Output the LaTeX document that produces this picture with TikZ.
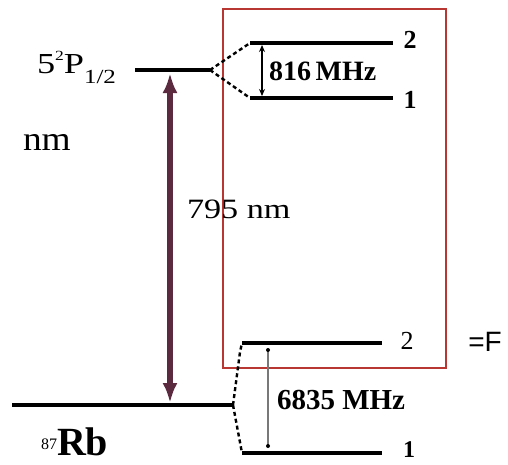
\documentclass[tikz,border=0pt]{standalone}
\usepackage{fontspec}
\setmainfont{Liberation Serif}
\newfontfamily\hand{Liberation Sans}
\usetikzlibrary{arrows.meta}
\definecolor{boxred}{RGB}{185,55,50}
\definecolor{maroon}{RGB}{92,42,62}
\definecolor{thingray}{RGB}{120,120,120}
\tikzset{
  lvl/.style={line width=4.5pt},
  hfs/.style={line width=3.2pt},
  dashlink/.style={line width=2.4pt, dash pattern=on 4pt off 3pt},
  txt/.style={inner sep=0pt, outer sep=0pt},
  smallarr/.style={line width=1.6pt, {Stealth[length=7pt,width=6pt]}-{Stealth[length=7pt,width=6pt]}},
}
\begin{document}
\begin{tikzpicture}[x=1pt,y=-1pt]
\useasboundingbox (0,0) rectangle (508,464);
% red box
\draw[boxred, line width=2.6pt] (223,9) rectangle (446,368);
% coordinates
\coordinate (pL) at (135,70);
\coordinate (pR) at (210,70);
\coordinate (p2L) at (250,43);
\coordinate (p2R) at (393,43);
\coordinate (p1L) at (250,98);
\coordinate (p1R) at (393,98);
\coordinate (gL) at (12,405);
\coordinate (gR) at (233,405);
\coordinate (g2L) at (242,343);
\coordinate (g2R) at (382,343);
\coordinate (gK) at (240,352);
\coordinate (g1L) at (242,453);
\coordinate (g1R) at (382,453);
\coordinate (aTop) at (170,73);
\coordinate (aBot) at (170,403);
\coordinate (mTop) at (262,45);
\coordinate (mBot) at (262,96);
\coordinate (sTop) at (268,350);
\coordinate (sBot) at (268,446);
% levels
\draw[lvl] (pL) -- (pR);
\draw[lvl] (gL) -- (gR);
\draw[hfs] (p2L) -- (p2R);
\draw[hfs] (p1L) -- (p1R);
\draw[hfs] (g2L) -- (g2R);
\draw[hfs] (g1L) -- (g1R);
% dashed links
\draw[dashlink] (pR) -- (p2L);
\draw[dashlink] (pR) -- (p1L);
\draw[dashlink] (gR) -- (gK) -- (g2L);
\draw[dashlink] (gR) -- (g1L);
% arrows
\draw[maroon, line width=5.5pt, {Latex[length=20pt,width=15pt]}-{Latex[length=20pt,width=15pt]}] (aTop) -- (aBot);
\draw[smallarr] (mTop) -- (mBot);
\draw[thingray, line width=1.6pt] (sTop) -- (sBot);
\fill (sTop) circle (2pt) (sBot) circle (2pt);
% texts
\node[txt, anchor=base west] (lblP) at (37,73) {\scalebox{1.25}[1]{\fontsize{29}{32}\selectfont 5\raisebox{0.42em}{\fontsize{14}{14}\selectfont 2}P\raisebox{-0.36em}{\fontsize{20}{20}\selectfont 1/2}}};
\node[txt, anchor=base west] (lblnm) at (23,150) {\scalebox{1.1}[1]{\fontsize{34}{36}\selectfont nm}};
\node[txt, anchor=base west] (lbl795) at (187,218) {\scalebox{1.22}[1]{\fontsize{28}{30}\selectfont 795 nm}};
\node[txt, anchor=base west] (lbl816) at (269,80) {\fontsize{28}{30}\selectfont\bfseries 816\,MHz};
\node[txt, anchor=base west] (lbl6835) at (277,409) {\fontsize{29}{31}\selectfont\bfseries 6835 MHz};
\node[txt] (lp2) at (410,40) {\fontsize{26}{28}\selectfont\bfseries 2};
\node[txt] (lp1) at (410,100) {\fontsize{26}{28}\selectfont\bfseries 1};
\node[txt] (lg2) at (407,341) {\fontsize{26}{28}\selectfont 2};
\node[txt] (lg1) at (409,450) {\fontsize{24}{26}\selectfont\bfseries 1};
\node[txt, anchor=base west] (lblRb) at (41,455) {\raisebox{0.58em}{\fontsize{16}{16}\selectfont 87}\fontsize{40}{42}\selectfont\bfseries Rb};
\node[txt] (lblF) at (485,342) {\hand\fontsize{28}{30}\selectfont =F};
\end{tikzpicture}
\end{document}
